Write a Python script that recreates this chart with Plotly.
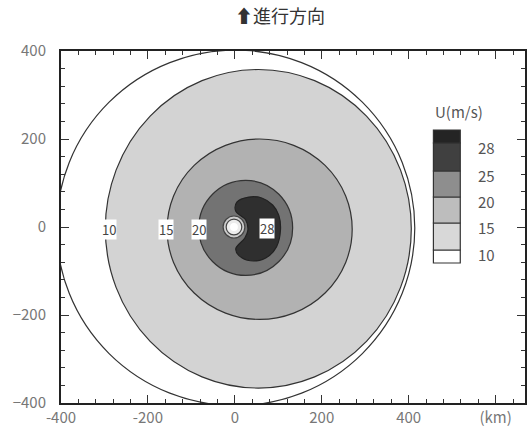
import plotly.graph_objects as go

# ---------------- data ----------------
# filled wind-speed bands (lower bound of each band, m/s) approximated as ellipses (km)
band_levels = [10, 15, 20]
band_cx = [54, 57, 25]
band_cy = [-4, -5, -2]
band_rx = [352, 213, 108]
band_ry = [362, 205, 108]
band_colors = ["#d3d3d3", "#b2b2b2", "#737373"]

# outermost unlabelled contour (centre x, centre y, radius x, radius y)
outer_cx, outer_cy, outer_rx, outer_ry = 2, -2, 412, 404

# kidney-shaped core of strongest winds (km)
core_level = 25
core_x = [5, 32, 62, 87, 101, 105, 96, 78, 50, 16, 2, 23, 30, 25, 2]
core_y = [57, 68, 66, 50, 27, -7, -45, -66, -77, -70, -50, -25, -7, 16, 36]
core_color = "#2f2f2f"

# eye rings (radius km, fill)
eye_r = [25, 18, 9]
eye_fill = ["#cccccc", "#ececec", "#ffffff"]

# inline contour labels
lab_text = ["10", "15", "20", "28"]
lab_x = [-289, -159, -82, 73]
lab_y = [-5, -5, -5, -4]

# legend (colour key)
key_labels = ["10", "15", "20", "25", "28"]
key_colors = ["#ffffff", "#d8d8d8", "#bdbdbd", "#8e8e8e", "#404040", "#242424"]

x_ticks = [-400, -200, 0, 200, 400, 600]
x_ticktext = ["-400", "-200", "0", "200", "400", "(km)"]
y_ticks = [-400, -200, 0, 200, 400]

LINE = "#333333"
FONT = "Noto Sans CJK JP"
fig = go.Figure()

# outer contour line
fig.add_shape(type="circle", xref="x", yref="y",
              x0=outer_cx - outer_rx, x1=outer_cx + outer_rx,
              y0=outer_cy - outer_ry, y1=outer_cy + outer_ry,
              line=dict(color=LINE, width=1.2), fillcolor="rgba(0,0,0,0)", layer="below")

for lv, cx, cy, rx, ry, c in zip(band_levels, band_cx, band_cy, band_rx, band_ry, band_colors):
    fig.add_shape(type="circle", xref="x", yref="y",
                  x0=cx - rx, x1=cx + rx, y0=cy - ry, y1=cy + ry,
                  line=dict(color=LINE, width=1.2), fillcolor=c, layer="below")

fig.add_trace(go.Scatter(x=core_x + core_x[:1], y=core_y + core_y[:1], mode="lines",
                         fill="toself", fillcolor=core_color,
                         line=dict(color="#222222", width=1.2, shape="spline", smoothing=1.0),
                         hoverinfo="skip", showlegend=False))

for r, f in zip(eye_r, eye_fill):
    fig.add_shape(type="circle", xref="x", yref="y", x0=-2 - r, x1=-2 + r, y0=-r, y1=r,
                  line=dict(color="#444444" if r > 10 else "rgba(0,0,0,0)", width=1.2),
                  fillcolor=f)

for t, x, y in zip(lab_text, lab_x, lab_y):
    fig.add_annotation(x=x, y=y, xref="x", yref="y", text=t, showarrow=False,
                       xanchor="center", yanchor="middle",
                       bgcolor="white", borderpad=0,
                       font=dict(size=13, color="#444444", family=FONT))

# colour key
x0k, x1k = 0.8026, 0.8605
bounds = [0.3977, 0.4347, 0.5114, 0.5852, 0.6591, 0.7386, 0.7756]
for i, c in enumerate(key_colors):
    fig.add_shape(type="rect", xref="paper", yref="paper", x0=x0k, x1=x1k,
                  y0=bounds[i], y1=bounds[i + 1], fillcolor=c,
                  line=dict(color="#333333", width=1.2))
for i, t in enumerate(key_labels):
    fig.add_annotation(x=0.916, y=bounds[i + 1] - 0.013, xref="paper", yref="paper", text=t,
                       showarrow=False, xanchor="center", yanchor="middle",
                       font=dict(size=15, color="#555555", family=FONT))
fig.add_annotation(x=0.858, y=0.8295, xref="paper", yref="paper", text="U(m/s)",
                   showarrow=False, xanchor="center", yanchor="middle",
                   font=dict(size=15, color="#555555", family=FONT))

fig.add_annotation(x=0.472, y=1.102, xref="paper", yref="paper", text="⬆進行方向",
                   showarrow=False, xanchor="center", yanchor="middle",
                   font=dict(size=18, color="#333333", family=FONT))

axis_common = dict(showgrid=False, zeroline=False, showline=True, linecolor="#222222",
                   linewidth=2, mirror="ticks", ticks="inside", ticklen=8, tickwidth=1.2,
                   tickcolor="#333333",
                   tickfont=dict(size=15, color="#777777", family=FONT),
                   minor=dict(dtick=40, ticks="inside", ticklen=4, tickwidth=1, tickcolor="#333333"))

fig.update_xaxes(range=[-400, 667.6], tickvals=x_ticks, ticktext=x_ticktext,
                 ticklabelstandoff=0, **axis_common)
fig.update_yaxes(range=[-400, 400], tickvals=y_ticks, ticklabelstandoff=10, **axis_common)

fig.update_layout(width=527, height=438, margin=dict(l=61, r=0, t=51, b=35),
                  plot_bgcolor="white", paper_bgcolor="white", showlegend=False)

fig.write_html("out.html")
